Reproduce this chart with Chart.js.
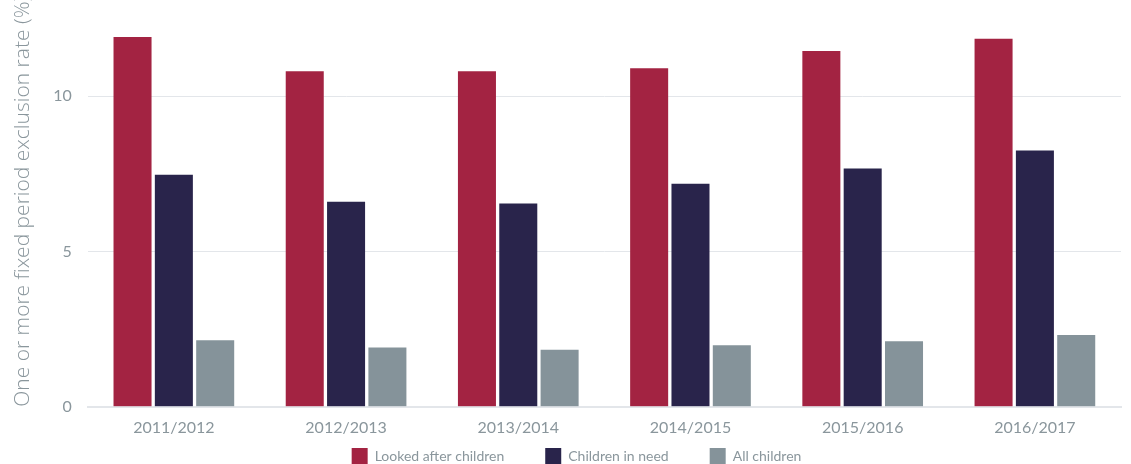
<!DOCTYPE html>
<html>
<head>
<meta charset="utf-8">
<script src="https://cdn.jsdelivr.net/npm/chart.js@4.4.1/dist/chart.umd.min.js"></script>
<style>
  html, body { margin: 0; padding: 0; background: #fff; }
  #wrap { width: 1131px; height: 464px; }
</style>
</head>
<body>
<div id="wrap"><canvas id="exclusionChart"></canvas></div>
<script>
const years = ['2011/2012', '2012/2013', '2013/2014', '2014/2015', '2015/2016', '2016/2017'];
const lookedAfter = [11.9, 10.8, 10.8, 10.9, 11.45, 11.85];
const inNeed = [7.47, 6.6, 6.54, 7.18, 7.67, 8.25];
const allChildren = [2.14, 1.91, 1.84, 1.98, 2.11, 2.31];
const yTicks = [0, 5, 10];

const textGrey = '#8a969c';

// the original legend overlaps the space under the x labels, so pull it up a bit
const liftLegend = {
    id: 'liftLegend',
    afterLayout(chart) {
        const lg = chart.legend;
        if (!lg) return;
        lg.top -= 33;
        lg.bottom -= 33;
        lg.left += 16;
        lg.right += 16;
    }
};

const ctx = document.getElementById('exclusionChart');

new Chart(ctx, {
    type: 'bar',
    data: {
        labels: years,
        datasets: [{
            label: 'Looked after children',
            data: lookedAfter,
            backgroundColor: '#a32342'
        }, {
            label: 'Children in need',
            data: inNeed,
            backgroundColor: '#29244b'
        }, {
            label: 'All children',
            data: allChildren,
            backgroundColor: '#85939a'
        }]
    },
    plugins: [liftLegend],
    options: {
        responsive: true,
        maintainAspectRatio: false,
        animation: false,
        layout: { padding: { top: 34, right: 10, bottom: -43, left: 0 } },
        datasets: {
            bar: { categoryPercentage: 0.72, barPercentage: 0.92 }
        },
        plugins: {
            legend: {
                position: 'bottom',
                labels: {
                    boxWidth: 16,
                    boxHeight: 16,
                    padding: 41,
                    color: textGrey,
                    font: { family: 'Lato', size: 14 }
                }
            },
            tooltip: { enabled: false }
        },
        scales: {
            y: {
                min: 0,
                max: 12,
                afterBuildTicks: (axis) => {
                    axis.ticks = yTicks.map(v => ({ value: v }));
                },
                border: { display: false },
                grid: { color: '#e3e6ea', lineWidth: 1, drawTicks: false },
                ticks: {
                    color: textGrey,
                    padding: 16,
                    font: { family: 'Lato', size: 16 }
                },
                title: {
                    display: true,
                    text: 'One or more fixed period exclusion rate (%)',
                    align: 'start',
                    color: textGrey,
                    padding: { top: 10, bottom: 2 },
                    font: { family: 'Open Sans', size: 21, weight: 300 }
                }
            },
            x: {
                border: { display: true, color: '#e3e6ea', width: 2 },
                grid: { display: false },
                ticks: {
                    color: textGrey,
                    padding: 3,
                    font: { family: 'Lato', size: 16 }
                }
            }
        }
    }
});
</script>
</body>
</html>
